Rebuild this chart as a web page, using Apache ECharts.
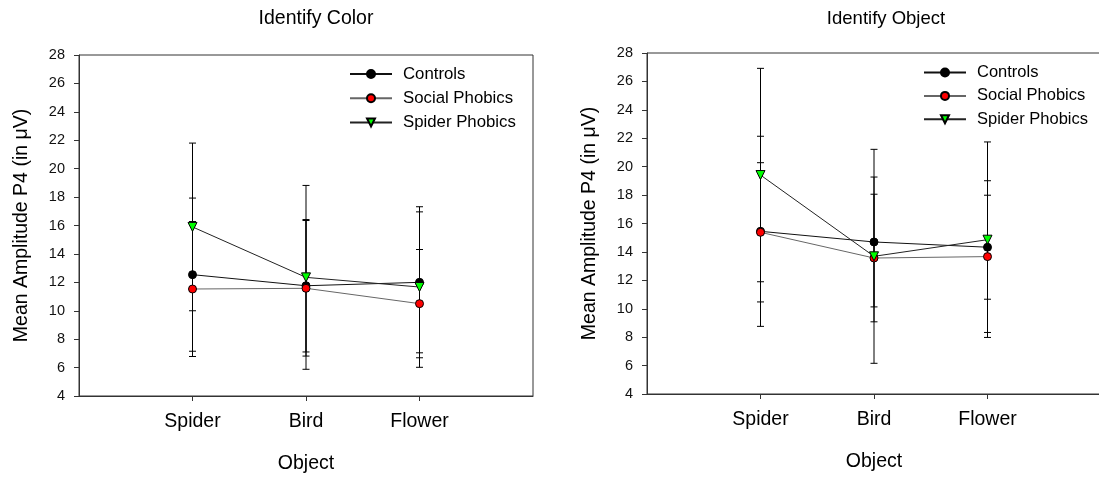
<!DOCTYPE html>
<html>
<head>
<meta charset="utf-8">
<script src="https://cdn.jsdelivr.net/npm/echarts@6/dist/echarts.min.js"></script>
<style>
  html, body { margin: 0; padding: 0; background: #fff; }
  #chart { width: 1099px; height: 477px; }
</style>
</head>
<body>
<div id="chart"></div>
<script>
// x positions: empty slots at both ends so the three objects sit at 1/4, 2/4, 3/4
const categories = ['', 'Spider', 'Bird', 'Flower', ''];
const groups = ['Controls', 'Social Phobics', 'Spider Phobics'];
const yTicks = [4, 28, 2]; // min, max, step

// Identify Color: means and error bar half-lengths
const colorControls = [12.54, 11.76, 12.0];
const colorSocial = [11.53, 11.58, 10.5];
const colorSpider = [15.9, 12.35, 11.67];
const colorControlsErr = [5.39, 4.66, 4.96];
const colorSocialErr = [4.75, 4.77, 3.81];
const colorSpiderErr = [5.9, 6.47, 5.65];

// Identify Object
const objectControls = [15.45, 14.7, 14.33];
const objectSocial = [15.38, 13.57, 13.67];
const objectSpider = [19.41, 13.69, 14.86];
const objectControlsErr = [6.69, 4.57, 3.66];
const objectSocialErr = [4.9, 4.49, 5.34];
const objectSpiderErr = [7.51, 7.53, 6.88];

const FONT = 'Liberation Sans, Arial, sans-serif';

const looks = [
    { symbol: 'circle', rotate: 0, fill: '#000000', line: '#111111' },
    { symbol: 'circle', rotate: 0, fill: '#ff0000', line: '#666666' },
    { symbol: 'triangle', rotate: 180, fill: '#00ff00', line: '#222222' },
];

const toPoints = (vals) => vals.map((v, i) => [i + 1, v]);

const toBars = (valsList, errList) => {
    const out = [];
    valsList.forEach((vals, g) => {
        vals.forEach((v, i) => {
            out.push([i + 1, v - errList[g][i], v + errList[g][i]]);
        });
    });
    return out;
};

const renderErrorBar = (params, api) => {
    const x = api.value(0);
    const lo = api.coord([x, api.value(1)]);
    const hi = api.coord([x, api.value(2)]);
    const half = 3.5;
    const style = { stroke: '#000', lineWidth: 1 };
    return {
        type: 'group',
        children: [
            { type: 'line', shape: { x1: lo[0], y1: lo[1], x2: hi[0], y2: hi[1] }, style },
            { type: 'line', shape: { x1: lo[0] - half, y1: lo[1], x2: lo[0] + half, y2: lo[1] }, style },
            { type: 'line', shape: { x1: hi[0] - half, y1: hi[1], x2: hi[0] + half, y2: hi[1] }, style },
        ],
    };
};

const makeAxes = (gridIndex) => {
    const xAxis = {
        type: 'category',
        gridIndex,
        data: categories,
        boundaryGap: false,
        name: 'Object',
        nameLocation: 'middle',
        nameGap: 58,
        nameTextStyle: { fontFamily: FONT, fontSize: 19.5, color: '#000' },
        axisLine: { lineStyle: { color: '#333', width: 1 } },
        axisTick: { length: 5, interval: (i, v) => v !== '', lineStyle: { color: '#333' } },
        axisLabel: { margin: 16, interval: 0, fontFamily: FONT, fontSize: 19.5, color: '#000' },
        splitLine: { show: false },
    };
    const yAxis = {
        type: 'value',
        gridIndex,
        min: yTicks[0],
        max: yTicks[1],
        interval: yTicks[2],
        name: 'Mean Amplitude P4 (in μV)',
        nameLocation: 'middle',
        nameGap: 47,
        nameTextStyle: { fontFamily: FONT, fontSize: 19.5, color: '#000' },
        axisLine: { show: true, lineStyle: { color: '#333', width: 1 } },
        axisTick: { show: true, length: 5, lineStyle: { color: '#333' } },
        axisLabel: { margin: 14, fontFamily: FONT, fontSize: 14.5, color: '#111' },
        splitLine: { show: false },
    };
    return [xAxis, yAxis];
};

const makeSeries = (idx, valsList, errList) => {
    const list = valsList.map((vals, g) => ({
        name: groups[g],
        type: 'line',
        xAxisIndex: idx,
        yAxisIndex: idx,
        data: toPoints(vals),
        symbol: looks[g].symbol,
        symbolSize: g === 2 ? 9 : 8,
        symbolRotate: looks[g].rotate,
        lineStyle: { color: looks[g].line, width: 1 },
        itemStyle: { color: looks[g].fill, borderColor: '#000', borderWidth: 1 },
        z: 3,
        animation: false,
    }));
    list.push({
        type: 'custom',
        xAxisIndex: idx,
        yAxisIndex: idx,
        data: toBars(valsList, errList),
        renderItem: renderErrorBar,
        z: 1,
        silent: true,
        animation: false,
    });
    return list;
};

const makeLegend = (left, top, gap, size) => ({
    data: groups,
    orient: 'vertical',
    left,
    top,
    padding: 0,
    itemWidth: 42,
    itemHeight: 10,
    itemGap: gap,
    selectedMode: false,
    textStyle: { fontFamily: FONT, fontSize: size, color: '#000', padding: [0, 0, 0, 6], lineHeight: 18 },
});

const chart = echarts.init(document.getElementById('chart'));
const [xa0, ya0] = makeAxes(0);
const [xa1, ya1] = makeAxes(1);

chart.setOption({
    animation: false,
    title: [
        { text: 'Identify Color', left: 311, top: 4, textAlign: 'center',
          textStyle: { fontFamily: FONT, fontSize: 19.5, fontWeight: 'normal', color: '#000' } },
        { text: 'Identify Object', left: 881, top: 4, textAlign: 'center',
          textStyle: { fontFamily: FONT, fontSize: 18.5, fontWeight: 'normal', color: '#000' } },
    ],
    legend: [makeLegend(349, 65, 6.2, 16.8), makeLegend(923, 63.5, 5.4, 16.5)],
    grid: [
        { left: 79, top: 55, width: 454, height: 341, show: true, borderColor: '#333', borderWidth: 1,
          outerBoundsMode: 'none' },
        { left: 647, top: 53, width: 454, height: 341, show: true, borderColor: '#333', borderWidth: 1,
          outerBoundsMode: 'none' },
    ],
    xAxis: [xa0, xa1],
    yAxis: [ya0, ya1],
    series: [
        ...makeSeries(0, [colorControls, colorSocial, colorSpider],
            [colorControlsErr, colorSocialErr, colorSpiderErr]),
        ...makeSeries(1, [objectControls, objectSocial, objectSpider],
            [objectControlsErr, objectSocialErr, objectSpiderErr]),
    ],
});
</script>
</body>
</html>
